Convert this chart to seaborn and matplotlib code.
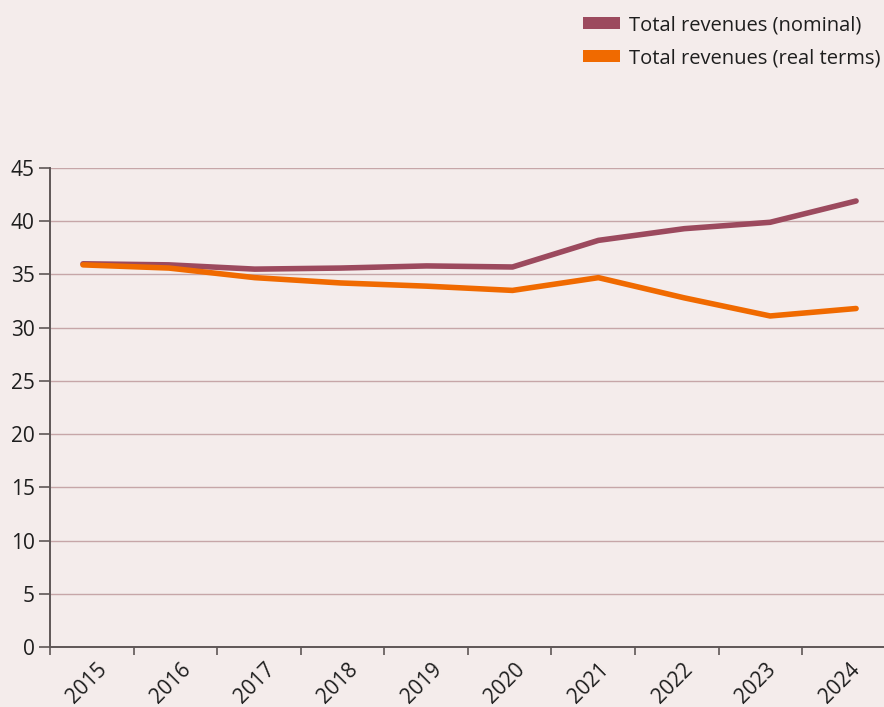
import matplotlib
matplotlib.use("Agg")
import matplotlib.pyplot as plt
import matplotlib.transforms as mtransforms
from matplotlib.patches import Patch
from matplotlib.ticker import FixedLocator, NullFormatter
import seaborn as sns
import pandas as pd
import numpy as np

years = ["2015", "2016", "2017", "2018", "2019", "2020", "2021", "2022", "2023", "2024"]
nominal = [36.0, 35.9, 35.5, 35.6, 35.8, 35.7, 38.2, 39.3, 39.9, 41.9]
real_terms = [35.9, 35.6, 34.7, 34.2, 33.9, 33.5, 34.7, 32.8, 31.1, 31.8]
series_names = ["Total revenues (nominal)", "Total revenues (real terms)"]
colors = ["#9C4A5E", "#F06A00"]
y_ticks = [0, 5, 10, 15, 20, 25, 30, 35, 40, 45]

bg = "#F4ECEB"
sns.set_theme(style="white")
plt.rcParams["font.family"] = ["Open Sans", "DejaVu Sans"]

df = pd.DataFrame({
    "idx": list(range(len(years))) * 2,
    "value": nominal + real_terms,
    "series": [series_names[0]] * len(years) + [series_names[1]] * len(years),
})

fig = plt.figure(figsize=(8.84, 7.07), dpi=100, facecolor=bg)
ax = fig.add_axes([50 / 884, 60 / 707, 834 / 884, 479 / 707])
ax.set_facecolor(bg)

sns.lineplot(data=df, x="idx", y="value", hue="series", palette=colors,
             linewidth=4.0, legend=False, ax=ax, solid_capstyle="round",
             zorder=3)

# axis geometry: category boundary ticks slightly narrower than data spacing
x_left = -0.384
step = 0.973
ax.set_xlim(x_left, x_left + 834 / 85.9)
ax.set_ylim(0, 45)

major = [x_left + step * k for k in range(len(years) + 1)]
minor = [x_left + step * (k + 0.5) for k in range(len(years))]
ax.xaxis.set_major_locator(FixedLocator(major))
ax.xaxis.set_major_formatter(NullFormatter())
ax.xaxis.set_minor_locator(FixedLocator(minor))
ax.set_xticks(minor, minor=True)
ax.set_xticklabels(years, minor=True)
ax.tick_params(axis="x", which="major", length=6, width=1.2, color="#5E5656", direction="out", bottom=True)
ax.tick_params(axis="x", which="minor", length=0, pad=14, labelsize=15, labelcolor="#1E1E1E")
offset = mtransforms.ScaledTranslation(9 / 72, 0, fig.dpi_scale_trans)
for lab in ax.get_xticklabels(minor=True):
    lab.set_rotation(45)
    lab.set_ha("right")
    lab.set_va("center")
    lab.set_rotation_mode("anchor")
    lab.set_transform(lab.get_transform() + offset)

ax.set_yticks(y_ticks)
ax.set_yticklabels([str(v) for v in y_ticks])
ax.tick_params(axis="y", length=8, width=1.2, color="#5E5656", direction="out", left=True,
               pad=3, labelsize=15, labelcolor="#1E1E1E")

for v in y_ticks[1:]:
    ax.axhline(v, color="#C6A6A8", linewidth=1.0, zorder=1)

for s in ["top", "right"]:
    ax.spines[s].set_visible(False)
for s in ["left", "bottom"]:
    ax.spines[s].set_color("#5E5656")
    ax.spines[s].set_linewidth(1.4)
ax.set_xlabel("")
ax.set_ylabel("")

handles = [Patch(facecolor=c, edgecolor="none") for c in colors]
fig.legend(handles, series_names, loc="upper right", bbox_to_anchor=(1.0, 1.0 - 12 / 707),
           frameon=False, fontsize=14.5, handlelength=1.85, handleheight=0.6,
           handletextpad=0.45, labelspacing=0.65, borderpad=0.15, borderaxespad=0.0,
           labelcolor="#1E1E1E")

fig.savefig("out.png", dpi=100, facecolor=bg)
